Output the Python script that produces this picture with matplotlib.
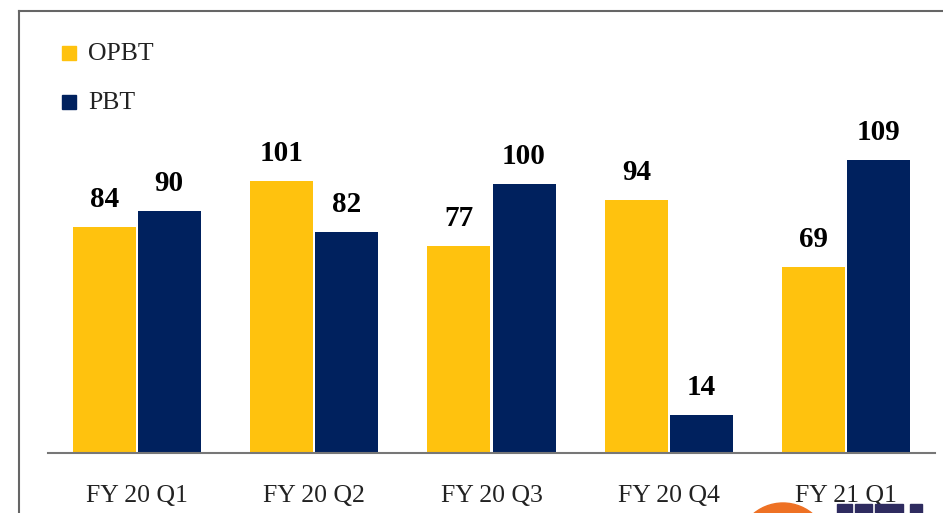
import numpy as np
import matplotlib.pyplot as plt
from matplotlib.lines import Line2D
from matplotlib.patches import Ellipse, Rectangle

quarters = ['FY 20 Q1', 'FY 20 Q2', 'FY 20 Q3', 'FY 20 Q4', 'FY 21 Q1']
opbt = [84, 101, 77, 94, 69]
pbt = [90, 82, 100, 14, 109]

c_opbt = '#FFC20E'
c_pbt = '#00215E'

plt.rcParams['font.family'] = ['Liberation Serif', 'DejaVu Serif']

W, H = 943, 513
fig = plt.figure(figsize=(W / 100, H / 100), dpi=100)

# axes: x from 48 to 935 px, baseline at y=453
ax = fig.add_axes([48 / W, (H - 453) / H, (935 - 48) / W, (453 - 130) / H])
x = np.arange(len(quarters))
w = 0.355
b1 = ax.bar(x - w / 2 - 0.006, opbt, w, color=c_opbt)
b2 = ax.bar(x + w / 2 + 0.006, pbt, w, color=c_pbt)

for bars, vals in [(b1, opbt), (b2, pbt)]:
    for r, v in zip(bars, vals):
        ax.annotate(str(v), (r.get_x() + r.get_width() / 2, v),
                    xytext=(0, 10), textcoords='offset points',
                    ha='center', va='bottom', fontsize=21, fontweight='bold',
                    color='black')

ax.set_xlim(-0.5, 4.5)
ax.set_ylim(0, 120)
ax.set_xticks(x)
ax.set_xticklabels(quarters, fontsize=18.5, color='#222222')
ax.tick_params(axis='x', length=0, pad=23)
ax.set_yticks([])
for s in ['top', 'right', 'left']:
    ax.spines[s].set_visible(False)
ax.spines['bottom'].set_color('#777777')
ax.spines['bottom'].set_linewidth(1.5)

# legend
fig.patches.append(Rectangle((62 / W, (H - 60) / H), 14 / W, 14 / H,
                             color=c_opbt, transform=fig.transFigure))
fig.patches.append(Rectangle((62 / W, (H - 109) / H), 14 / W, 14 / H,
                             color=c_pbt, transform=fig.transFigure))
fig.text(88 / W, (H - 54) / H, 'OPBT', fontsize=18.5, va='center', color='#222222')
fig.text(88 / W, (H - 103) / H, 'PBT', fontsize=18.5, va='center', color='#222222')

# slide frame
fig.add_artist(Line2D([19 / W, 1], [(H - 11) / H] * 2, color='#666666', lw=1.5))
fig.add_artist(Line2D([19 / W] * 2, [0, (H - 11) / H], color='#666666', lw=1.5))

# partial logo, cut off at the bottom edge
fig.patches.append(Ellipse((783 / W, (H - 549) / H), 92 / W, 92 / H,
                           color='#EE7124', transform=fig.transFigure))
for x0, x1 in [(837, 852), (855, 872), (875, 903), (910, 922)]:
    fig.patches.append(Rectangle((x0 / W, 0), (x1 - x0) / W, (H - 504) / H,
                                 color='#2E2B5F', transform=fig.transFigure))

fig.savefig('out.png', dpi=100)
